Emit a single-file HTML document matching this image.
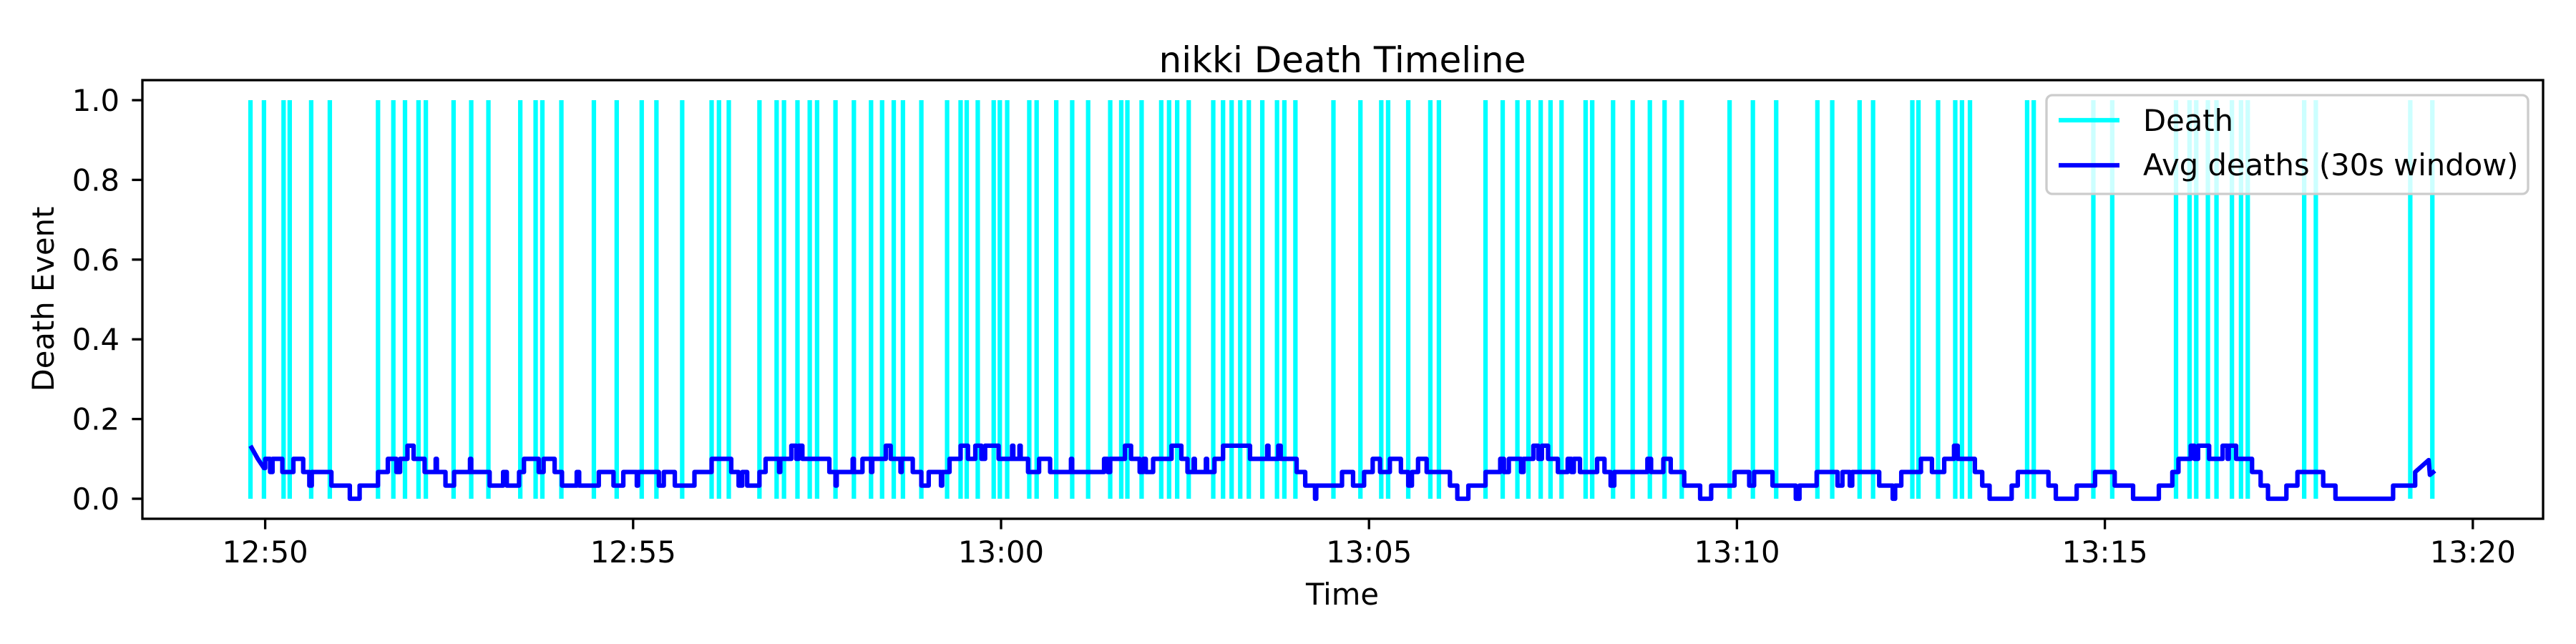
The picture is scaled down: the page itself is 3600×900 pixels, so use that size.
<!DOCTYPE html>
<html><head><meta charset="utf-8"><title>nikki Death Timeline</title>
<style>
html,body{margin:0;padding:0;background:#fff;}
svg{display:block;font-family:"DejaVu Sans","Liberation Sans",sans-serif;}
</style></head>
<body>
<svg id="chart" width="3600" height="900" viewBox="0 0 3600 900" xmlns="http://www.w3.org/2000/svg">
<rect x="0" y="0" width="3600" height="900" fill="#fff"/>
<text x="1876" y="101" font-size="50" text-anchor="middle">nikki Death Timeline</text>
<g id="plot"></g>
<text x="1876" y="845" font-size="41.7" text-anchor="middle">Time</text>
<text x="0" y="0" font-size="41.7" text-anchor="middle" transform="translate(75,418) rotate(-90)">Death Event</text>
</svg>
<script>
// death times, seconds relative to 12:50:00
const deathTimes = [-12,-1,15,20,37.5,52.7,92,104.5,114,125,131,153.6,168,182,208,220.5,226,241.5,268,286.6,307,319,340,364,370,378,403,417,423,434,444,450,465,480,494,503,512.5,520,535,556,567,572,581,594,599,605,623,629,645,658,671,689,698,703,714.6,730.6,737,743.6,753,773,781,788,795,802,813,825,831,840,871,893,910,915.6,932,950,957,995,1009,1021,1030,1040,1048,1057,1076.6,1082,1099,1115,1129,1141,1155,1194,1213,1232,1265.6,1277.7,1300,1311,1343,1348,1364,1378,1383.5,1390,1436.6,1442,1490.6,1506,1558,1569,1574.5,1584,1591,1603.6,1611,1616.5,1662.5,1672,1749,1767];
// rolling average: step breakpoints (seconds) and values
const avgT = [-12,-6,-1,0,4,6,14,23,31,36,38,54,69,77,92,100,107,110,116,121,130,139,140,147,154,167,168,183,194,197,207,211,223,227,236,242,254,256,272,284,292,303,304,321,325,334,350,364,380,386,389,393,403,408,419,420,429,433,435,438,460,465,466,479,480,487,494,495,506,510,518,519,528,535,541,551,552,558,567,573,579,584,587,590,598,609,610,615,616,622,631,640,657,658,661,684,687,689,701,706,713,716,718,724,739,747,752,757,758,767,768,774,781,803,805,817,818,826,828,841,848,856,857,878,887,896,903,909,917,926,932,935,940,947,966,972,981,995,1007,1010,1014,1024,1026,1034,1038,1041,1046,1054,1062,1065,1067,1072,1086,1092,1097,1100,1127,1130,1140,1146,1157,1170,1179,1198,1210,1214,1229,1248,1251,1265,1282,1286,1292,1294,1316,1327,1329,1334,1350,1359,1369,1377,1380,1394,1400,1406,1424,1429,1454,1460,1477,1492,1508,1523,1544,1555,1560,1570,1573,1576,1585,1596,1600,1601,1607,1620,1627,1633,1648,1657,1678,1688,1735,1753,1764,1765,1769];
const avgV = [0.133,0.1,0.077,0.1,0.067,0.1,0.067,0.1,0.067,0.033,0.067,0.033,0,0.033,0.067,0.1,0.067,0.1,0.133,0.1,0.067,0.1,0.067,0.033,0.067,0.1,0.067,0.033,0.067,0.033,0.067,0.1,0.067,0.1,0.067,0.033,0.067,0.033,0.067,0.033,0.067,0.033,0.067,0.033,0.067,0.033,0.067,0.1,0.067,0.033,0.067,0.033,0.067,0.1,0.067,0.1,0.133,0.1,0.133,0.1,0.067,0.033,0.067,0.1,0.067,0.1,0.067,0.1,0.133,0.1,0.067,0.1,0.067,0.033,0.067,0.033,0.067,0.1,0.133,0.1,0.133,0.1,0.133,0.133,0.1,0.133,0.1,0.133,0.1,0.067,0.1,0.067,0.1,0.067,0.067,0.1,0.067,0.1,0.133,0.1,0.067,0.1,0.067,0.1,0.133,0.1,0.067,0.1,0.067,0.1,0.067,0.1,0.133,0.1,0.1,0.133,0.1,0.133,0.1,0.067,0.033,0,0.033,0.067,0.033,0.067,0.1,0.067,0.1,0.067,0.033,0.067,0.1,0.067,0.033,0,0.033,0.067,0.1,0.067,0.1,0.067,0.1,0.133,0.1,0.133,0.1,0.067,0.1,0.067,0.1,0.067,0.1,0.067,0.033,0.067,0.1,0.067,0.1,0.067,0.033,0,0.033,0.067,0.033,0.067,0.033,0,0.033,0.067,0.033,0.067,0.033,0.067,0.033,0,0.033,0.067,0.1,0.067,0.1,0.133,0.1,0.067,0.033,0,0.033,0.067,0.033,0,0.033,0.067,0.033,0,0.033,0.067,0.1,0.133,0.1,0.133,0.1,0.133,0.1,0.133,0.1,0.067,0.033,0,0.033,0.067,0.033,0,0.033,0.067,0.097,0.06,0.07];
const xTickLabels = ["12:50","12:55","13:00","13:05","13:10","13:15","13:20"];
const xTickSecs = [0,300,600,900,1200,1500,1800];
const yTickLabels = ["0.0","0.2","0.4","0.6","0.8","1.0"];
const yTickVals = [0,0.2,0.4,0.6,0.8,1.0];

const NS = "http://www.w3.org/2000/svg";
const L = 199, R = 3554, T = 112, B = 725;
const X0 = 370.6, PXS = 514.2 / 300;
const Y0 = 697, Y1 = 140;
function xs(t){ return X0 + t * PXS; }
function ys(v){ return Y0 + (Y1 - Y0) * v; }
const plot = document.getElementById('plot');
function mk(tag, attrs, parent){
  const e = document.createElementNS(NS, tag);
  for (const k in attrs) e.setAttribute(k, attrs[k]);
  (parent || plot).appendChild(e);
  return e;
}
const gDeaths = mk('g', {});


deathTimes.forEach(function(t){
  const ln = mk('line', {x1: xs(t), x2: xs(t), y1: ys(0), y2: ys(1), stroke: '#00ffff', 'stroke-width': 6.25}, gDeaths);
  
  
});
// avg step line
let d = 'M' + xs(avgT[0]) + ',' + ys(avgV[0]);
for (let i = 1; i < avgT.length; i++){
  if (i < 3 || i >= avgT.length - 3) d += ' L' + xs(avgT[i]) + ',' + ys(avgV[i]);
  else d += ' L' + xs(avgT[i]) + ',' + ys(avgV[i-1]) + ' L' + xs(avgT[i]) + ',' + ys(avgV[i]);
}
const avgPath = mk('path', {d: d, fill: 'none', stroke: '#0000ff', 'stroke-width': 6.25, 'stroke-linejoin': 'round'});


// axes frame
const frame = mk('rect', {x: L, y: T, width: R - L, height: B - T, fill: 'none', stroke: '#000', 'stroke-width': 3.33});


// x ticks
xTickSecs.forEach(function(s, i){
  const x = xs(s);
  const tk = mk('line', {x1: x, x2: x, y1: B, y2: B + 14.6, stroke: '#000', 'stroke-width': 3.33});
  
  
  const tx = mk('text', {x: x, y: 786, 'font-size': 41.7, 'text-anchor': 'middle'});
  tx.textContent = xTickLabels[i];
  
  
});
// y ticks
yTickVals.forEach(function(v, i){
  const y = ys(v);
  const tk = mk('line', {x1: L - 14.6, x2: L, y1: y, y2: y, stroke: '#000', 'stroke-width': 3.33});
  
  
  const tx = mk('text', {x: 167, y: y + 15, 'font-size': 41.7, 'text-anchor': 'end'});
  tx.textContent = yTickLabels[i];
  
  
});
// legend
const lg = mk('g', {});


mk('rect', {x: 2860, y: 133, width: 673, height: 138, rx: 8, fill: '#fff', 'fill-opacity': 0.8, stroke: '#cccccc', 'stroke-width': 3.33}, lg);
const h1 = mk('line', {x1: 2877, x2: 2962, y1: 168, y2: 168, stroke: '#00ffff', 'stroke-width': 6.25}, lg);


const t1 = mk('text', {x: 2995, y: 183, 'font-size': 41.7}, lg);
t1.textContent = 'Death';


const h2 = mk('line', {x1: 2877, x2: 2962, y1: 231, y2: 231, stroke: '#0000ff', 'stroke-width': 6.25}, lg);


const t2 = mk('text', {x: 2995, y: 245, 'font-size': 41.7}, lg);
t2.textContent = 'Avg deaths (30s window)';


</script>
</body></html>
